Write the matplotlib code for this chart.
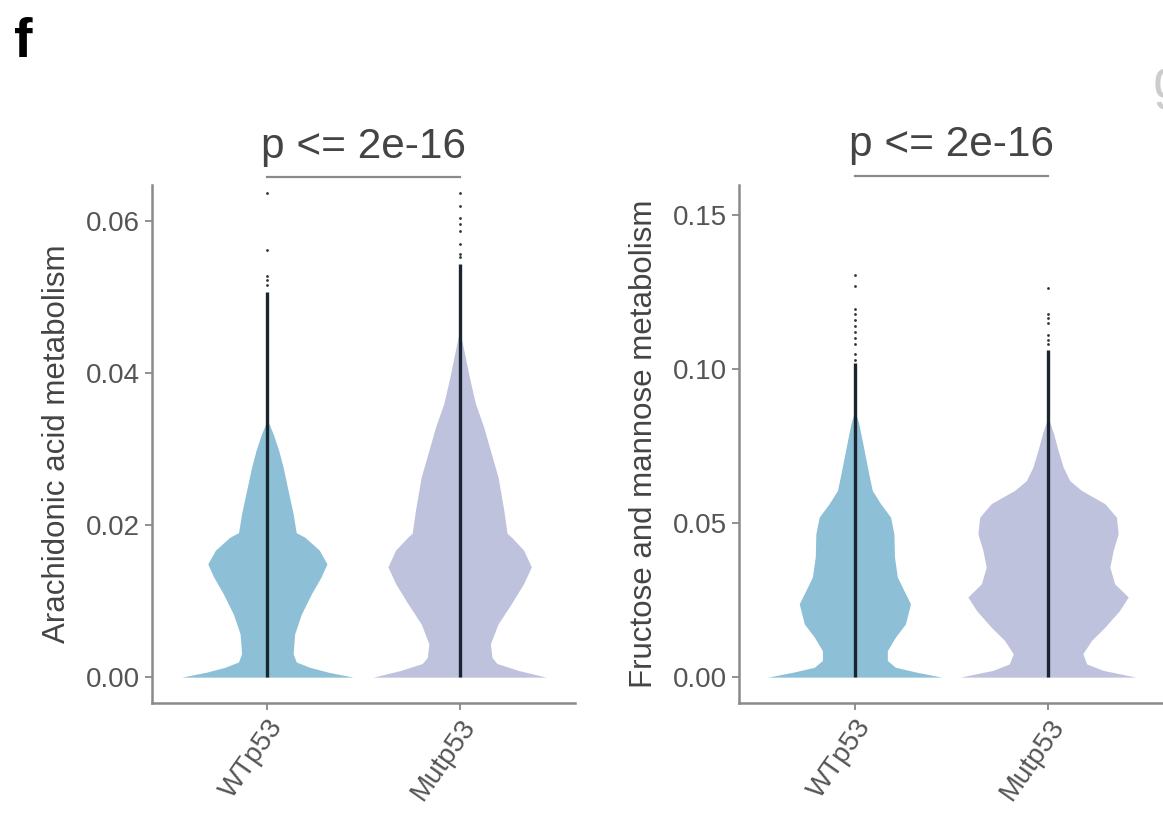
import matplotlib.pyplot as plt

plt.rcParams['font.family'] = ['Liberation Sans', 'DejaVu Sans']

groups = ["WTp53", "Mutp53"]
colors = ["#8dc0d6", "#bfc2dc"]

# panel 1: Arachidonic acid metabolism
# violin outline: value levels and half widths (category units)
ara_wt_y = [0, 0.00066, 0.0013, 0.002, 0.0031, 0.0057, 0.0083, 0.011, 0.0132, 0.0149,
            0.0167, 0.0184, 0.019, 0.0215, 0.025, 0.0276, 0.0298, 0.032, 0.0338]
ara_wt_w = [0.446, 0.316, 0.22, 0.15, 0.134, 0.142, 0.177, 0.23, 0.28, 0.31,
            0.27, 0.195, 0.15, 0.134, 0.104, 0.082, 0.059, 0.03, 0.0]
ara_mut_y = [0, 0.00088, 0.0018, 0.0026, 0.0044, 0.007, 0.0097, 0.0123, 0.0145, 0.0167,
             0.0184, 0.0189, 0.0219, 0.0263, 0.0298, 0.0329, 0.036, 0.0395, 0.0425, 0.0456]
ara_mut_w = [0.45, 0.307, 0.194, 0.168, 0.16, 0.20, 0.27, 0.333, 0.373, 0.333,
             0.27, 0.247, 0.23, 0.20, 0.16, 0.125, 0.082, 0.05, 0.026, 0.0]
ara_line_top = [0.0506, 0.0543]
ara_wt_pts = [0.0637, 0.0562, 0.0528, 0.0522, 0.0515]
ara_mut_pts = [0.0637, 0.0619, 0.0604, 0.0596, 0.0586, 0.057, 0.0556, 0.0552]

# panel 2: Fructose and mannose metabolism
fru_wt_y = [0, 0.0016, 0.0032, 0.0054, 0.0086, 0.013, 0.0173, 0.0238, 0.0281, 0.0325,
            0.039, 0.0465, 0.0519, 0.0563, 0.0606, 0.066, 0.0714, 0.0768, 0.0823, 0.0866]
fru_wt_w = [0.45, 0.32, 0.21, 0.168, 0.168, 0.21, 0.262, 0.288, 0.254, 0.22,
            0.205, 0.202, 0.185, 0.133, 0.09, 0.072, 0.055, 0.038, 0.02, 0.0]
fru_mut_y = [0, 0.0022, 0.0043, 0.0076, 0.0119, 0.0162, 0.0216, 0.026, 0.0303, 0.0357,
             0.0411, 0.0465, 0.0519, 0.0563, 0.0606, 0.0638, 0.0682, 0.0736, 0.079, 0.0844]
fru_mut_w = [0.455, 0.285, 0.2, 0.18, 0.225, 0.294, 0.37, 0.415, 0.345, 0.32,
             0.337, 0.363, 0.354, 0.294, 0.173, 0.112, 0.078, 0.052, 0.029, 0.0]
fru_line_top = [0.102, 0.106]
fru_wt_pts = [0.1305, 0.127, 0.1195, 0.118, 0.116, 0.114, 0.112, 0.110, 0.108, 0.105, 0.103]
fru_mut_pts = [0.1264, 0.118, 0.1165, 0.115, 0.111, 0.1095, 0.108]

panels = [
    dict(rect=[0.1307, 0.1416, 0.3637, 0.6325], ylim=(-0.0034, 0.0647),
         yticks=[0, 0.02, 0.04, 0.06],
         ylabel="Arachidonic acid metabolism",
         shapes=[(ara_wt_y, ara_wt_w), (ara_mut_y, ara_mut_w)],
         tops=ara_line_top, pts=[ara_wt_pts, ara_mut_pts], bracket=0.0657),
    dict(rect=[0.6354, 0.1416, 0.3654, 0.6325], ylim=(-0.0084, 0.1597),
         yticks=[0, 0.05, 0.10, 0.15],
         ylabel="Fructose and mannose metabolism",
         shapes=[(fru_wt_y, fru_wt_w), (fru_mut_y, fru_mut_w)],
         tops=fru_line_top, pts=[fru_wt_pts, fru_mut_pts], bracket=0.1627),
]

fig = plt.figure(figsize=(11.63, 8.19), dpi=100)

for p in panels:
    ax = fig.add_axes(p["rect"])
    for i, (yy, ww) in enumerate(p["shapes"]):
        x = i + 1
        ax.fill_betweenx(yy, [x - w for w in ww], [x + w for w in ww],
                         color=colors[i], linewidth=0, zorder=2)
        ax.vlines(x, 0, p["tops"][i], color="#1b2530", linewidth=2.4, zorder=3)
        ax.scatter([x] * len(p["pts"][i]), p["pts"][i], s=4, color="#333333",
                   linewidths=0, zorder=3)
    ax.set_xlim(0.4, 2.6)
    ax.set_ylim(*p["ylim"])
    ax.set_yticks(p["yticks"])
    ax.set_yticklabels(["{:.2f}".format(v) for v in p["yticks"]])
    ax.set_xticks([1, 2])
    ax.set_xticklabels(groups, rotation=55, ha="right", rotation_mode="anchor")
    ax.tick_params(colors="#888888", labelcolor="#555555", labelsize=20,
                   length=5, width=1.3)
    ax.set_ylabel(p["ylabel"], fontsize=22.5, color="#444444", labelpad=10)
    for s in ["top", "right"]:
        ax.spines[s].set_visible(False)
    for s in ["left", "bottom"]:
        ax.spines[s].set_color("#8a8a8a")
        ax.spines[s].set_linewidth(1.8)
    # significance bracket
    ax.plot([1, 2], [p["bracket"], p["bracket"]], color="#8a8a8a", lw=1.6,
            clip_on=False)
    ax.annotate("p <= 2e-16", (1.5, p["bracket"]), xytext=(0, 14),
                textcoords="offset points", ha="center", va="baseline",
                fontsize=30.5, color="#444444", annotation_clip=False)

fig.text(0.012, 0.93, "f", fontsize=40, fontweight="bold")
fig.text(0.991, 0.88, "g", fontsize=40, color="#cccccc")

fig.savefig("out.png", dpi=100)
